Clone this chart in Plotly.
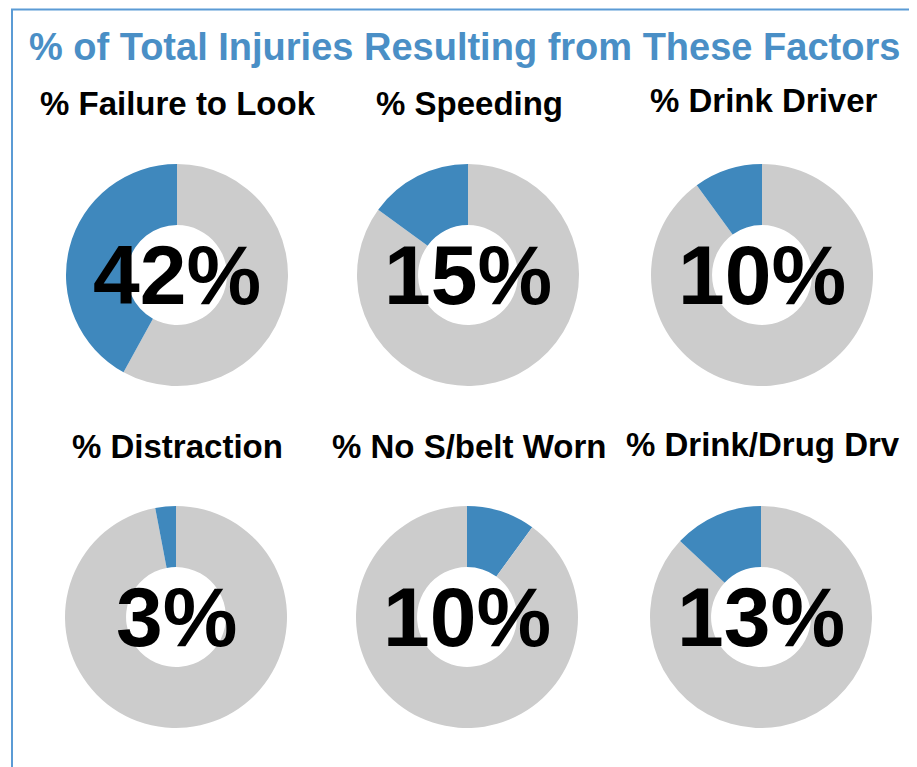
import plotly.graph_objects as go

W, H = 917, 767
OFF = 8  # page body margin compensation (pixels)

title = "% of Total Injuries Resulting from These Factors"
factors = ["% Failure to Look", "% Speeding", "% Drink Driver",
           "% Distraction", "% No S/belt Worn", "% Drink/Drug Drv"]
percents = [42, 15, 10, 3, 10, 13]
# side of 12 o'clock where the highlighted slice sits
sides = ["left", "left", "left", "left", "right", "left"]

BLUE = "#3f88bd"
GREY = "#cccccc"
TITLE_BLUE = "#4a8fc6"
FONT = "Liberation Sans, Arial, sans-serif"

# layout in pixels (centre x, centre y, radius)
centres = [(177, 275), (468, 275), (762, 275),
           (176, 617), (467, 617), (761, 617)]
R = 111
sub_pos = [(178, 103), (470, 103), (764, 101),
           (177, 446), (469, 446), (763, 444)]

def px(x):
    return (x - OFF) / W

def py(y):
    return 1 - (y - OFF) / H

fig = go.Figure()
for i, (f, p) in enumerate(zip(factors, percents)):
    cx, cy = centres[i]
    if sides[i] == "right":
        vals, cols, labs = [p, 100 - p], [BLUE, GREY], [f, "Other"]
    else:
        vals, cols, labs = [100 - p, p], [GREY, BLUE], ["Other", f]
    fig.add_trace(go.Pie(
        values=vals,
        labels=labs,
        marker=dict(colors=cols, line=dict(width=0)),
        hole=0.45,
        sort=False,
        direction="clockwise",
        rotation=0,
        textinfo="none",
        hoverinfo="label+percent",
        showlegend=False,
        domain=dict(x=[px(cx - R), px(cx + R)], y=[py(cy + R), py(cy - R)]),
    ))

annotations = [dict(
    text=f"<b>{title}</b>", x=px(27), y=py(47), xref="paper", yref="paper",
    xanchor="left", yanchor="middle", showarrow=False,
    font=dict(family=FONT, size=38, color=TITLE_BLUE),
)]
for i, f in enumerate(factors):
    sx, sy = sub_pos[i]
    annotations.append(dict(
        text=f"<b>{f}</b>", x=px(sx), y=py(sy), xref="paper", yref="paper",
        xanchor="center", yanchor="middle", showarrow=False,
        font=dict(family=FONT, size=33, color="#000000"),
    ))
    cx, cy = centres[i]
    annotations.append(dict(
        text=f"<b>{percents[i]}%</b>", x=px(cx), y=py(cy), xref="paper", yref="paper",
        xanchor="center", yanchor="middle", showarrow=False,
        font=dict(family=FONT, size=84, color="#000000"),
    ))

fig.update_layout(
    width=W, height=H,
    margin=dict(l=0, r=0, t=0, b=0),
    paper_bgcolor="white",
    plot_bgcolor="white",
    annotations=annotations,
    shapes=[dict(type="rect", xref="paper", yref="paper",
                 x0=px(12), x1=px(W + 40), y0=py(H + 40), y1=py(9.5),
                 line=dict(color="#5b9bd5", width=2), fillcolor="rgba(0,0,0,0)")],
)

fig.write_html("out.html")
